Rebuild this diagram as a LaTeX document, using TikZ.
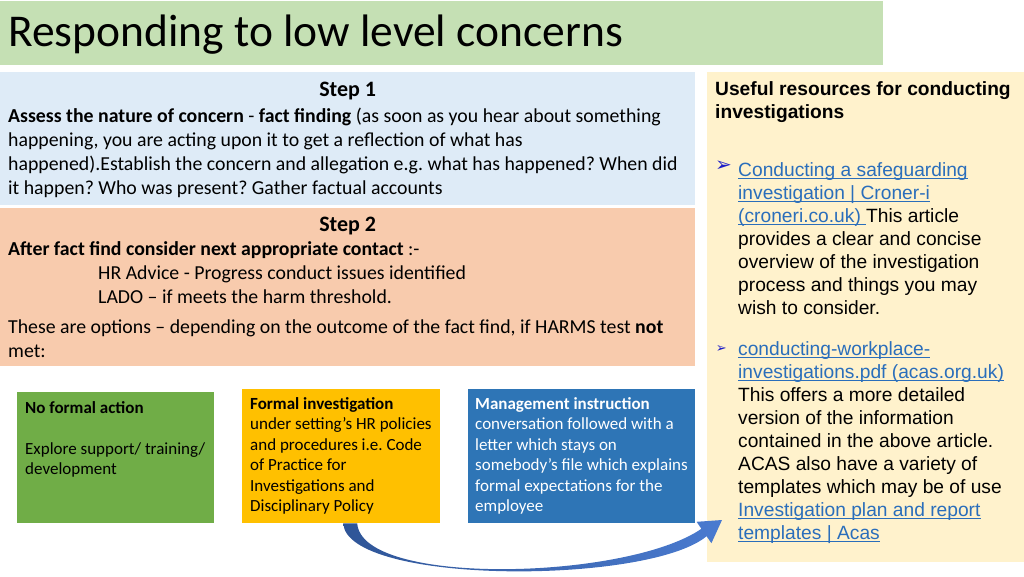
\documentclass[tikz,border=0pt]{standalone}
\usepackage{fontspec}
\setmainfont{Carlito}
\newfontfamily\arialfont{Liberation Sans}
\newfontfamily\symfont{DejaVu Sans}
\usetikzlibrary{positioning,arrows.meta}
\definecolor{titlegreen}{HTML}{C5E0B4}
\definecolor{stepblue}{HTML}{DEEBF7}
\definecolor{steppeach}{HTML}{F8CBAD}
\definecolor{boxgreen}{HTML}{70AD47}
\definecolor{boxgold}{HTML}{FFC000}
\definecolor{boxblue}{HTML}{2E75B6}
\definecolor{resyellow}{HTML}{FFF2CC}
\definecolor{linkblue}{HTML}{2A6EBB}
\definecolor{bulletblue}{HTML}{1E1EC8}
\definecolor{arrowdark}{HTML}{2F5597}
\definecolor{arrowlight}{HTML}{4A7BD0}
\newcommand\reslink[1]{{\color{linkblue}\setbox0\hbox{#1}\rlap{\rule[-2.8pt]{\wd0}{0.9pt}}\box0}}
\frenchspacing
\tikzstyle{panel} = [rectangle, inner sep=0pt, anchor=north west]
\tikzstyle{steptxt} = [inner sep=0pt, align=left]
\tikzstyle{stephead} = [inner sep=0pt, font=\bfseries\fontsize{22}{24}\selectfont]
\tikzstyle{boxtxt} = [inner sep=0pt, align=left, font=\fontsize{17}{20.5}\selectfont]
\tikzstyle{resbody} = [inner sep=0pt, align=left, font=\arialfont\fontsize{19.2}{23}\selectfont]
\tikzstyle{bullet} = [inner sep=0pt, text=bulletblue, font=\symfont\fontsize{20}{20}\selectfont]

\begin{document}
\begin{tikzpicture}[x=1pt,y=-1pt,font=\fontsize{19.8}{24}\selectfont]
  \useasboundingbox (0,0) rectangle (1024,576);
  % title band
  \node[panel, fill=titlegreen, minimum width=883pt, minimum height=64pt] (title) at (0,1) {};
  \node[anchor=base west, inner sep=0pt, font=\fontsize{45.5}{50}\selectfont] (titletext) at (8,46) {Responding to low level concerns};

  % step 1
  \node[panel, fill=stepblue, minimum width=695pt, minimum height=133pt] (step1) at (0,72) {};
  \node[stephead, below=10pt of step1.north] (step1head) {Step 1};
  \node[steptxt, below right=36pt and 8pt of step1.north west] (step1txt)
    {\textbf{Assess the nature of concern} - \textbf{fact finding} (as soon as you hear about something\\
     happening, you are acting upon it to get a reflection of what has\\
     happened).Establish the concern and allegation e.g. what has happened? When did\\
     it happen? Who was present? Gather factual accounts};

  % step 2
  \node[panel, fill=steppeach, minimum width=695pt, minimum height=158pt] (step2) at (0,208) {};
  \node[stephead, below=9pt of step2.north] (step2head) {Step 2};
  \node[steptxt, below right=33pt and 8pt of step2.north west] (step2txt)
    {\textbf{After fact find consider next appropriate contact} :-\\
     \hspace*{90pt}HR Advice - Progress conduct issues identified\\
     \hspace*{90pt}LADO -- if meets the harm threshold.};
  \node[steptxt, below right=112pt and 8pt of step2.north west] (step2opt)
    {These are options -- depending on the outcome of the fact find, if HARMS test \textbf{not}\\
     met:};

  % three outcomes
  \node[panel, fill=boxgreen, minimum width=197pt, minimum height=131pt] (noaction) at (17,392) {};
  \node[boxtxt, below right=9pt and 8pt of noaction.north west] (noactiontxt)
    {\textbf{No formal action}\\[20.5pt]
     Explore support/ training/\\
     development};
  \node[panel, fill=boxgold, minimum width=198pt, minimum height=134pt] (formal) at (242,389) {};
  \node[boxtxt, below right=8pt and 8pt of formal.north west] (formaltxt)
    {\textbf{Formal investigation}\\
     under setting’s HR policies\\
     and procedures i.e. Code\\
     of Practice for\\
     Investigations and\\
     Disciplinary Policy};
  \node[panel, fill=boxblue, minimum width=227pt, minimum height=134pt] (mgmt) at (468,389) {};
  \node[boxtxt, text=white, below right=8pt and 7pt of mgmt.north west] (mgmttxt)
    {\textbf{Management instruction}\\
     conversation followed with a\\
     letter which stays on\\
     somebody’s file which explains\\
     formal expectations for the\\
     employee};

  % resources
  \node[panel, fill=resyellow, minimum width=317pt, minimum height=490pt] (res) at (707,72) {};
  \node[resbody, font=\arialfont\bfseries\fontsize{19.2}{23}\selectfont, below right=9pt and 8pt of res.north west] (reshead)
    {Useful resources for conducting\\investigations};
  \node[resbody, below right=90pt and 31pt of res.north west] (res1)
    {\reslink{Conducting a safeguarding}\\
     \reslink{investigation | Croner-i}\\
     \reslink{(croneri.co.uk)\ }This article\\
     provides a clear and concise\\
     overview of the investigation\\
     process and things you may\\
     wish to consider.};
  \node[bullet, left=6pt of res1.north west, anchor=north east, yshift=1pt] (bul1) {➢};
  \node[resbody, below right=269pt and 31pt of res.north west] (res2)
    {\reslink{conducting-workplace-}\\
     \reslink{investigations.pdf (acas.org.uk)}\\
     This offers a more detailed\\
     version of the information\\
     contained in the above article.\\
     ACAS also have a variety of\\
     templates which may be of use\\
     \reslink{Investigation plan and report}\\
     \reslink{templates | Acas}};
  \node[bullet, font=\symfont\fontsize{13}{13}\selectfont, left=11pt of res2.north west, anchor=north east, yshift=-4pt] (bul2) {➢};

  % curved arrow from formal investigation to resources
  \coordinate (resin) at (722,520);
  \shade[left color=arrowdark, right color=arrowlight]
    ([xshift=2pt]formal.south) .. controls (347,585) and (648,585) .. (706.6,536.2)
    -- (711.4,543.2) -- (resin) -- (696.6,521.8) -- (701.4,528.8)
    .. controls (627,580) and (362,587) .. ([xshift=16pt]formal.south) -- cycle;
\end{tikzpicture}
\end{document}
